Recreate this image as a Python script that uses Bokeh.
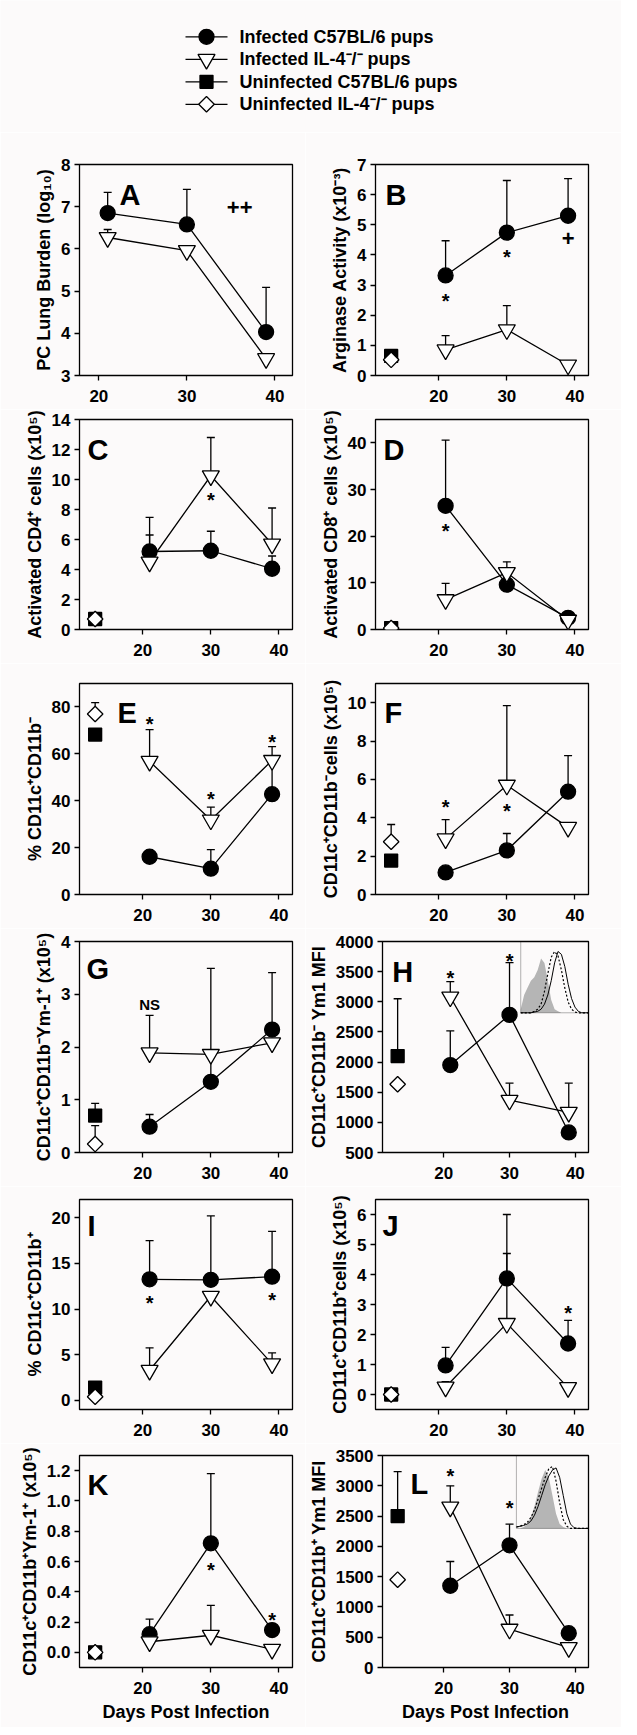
import numpy as np
from bokeh.plotting import figure
from bokeh.layouts import column, row
from bokeh.models import (Range1d, FixedTicker, Label, BoxAnnotation, NumeralTickFormatter)
from bokeh.core.properties import value
from bokeh.embed import file_html
from bokeh.resources import INLINE

# ------------------------------------------------------------------ data
DAYS = [21, 30, 39]
UNINF_DAY = [13]
XTICKS = [20, 30, 40]

SERIES_NAMES = ["Infected C57BL/6 pups", "Infected IL-4\u207b/\u207b pups",
                "Uninfected C57BL/6 pups", "Uninfected IL-4\u207b/\u207b pups"]

# A  PC lung burden
A_b6 = [6.85, 6.58, 4.03];   A_b6_err = [0.49, 0.83, 1.06]
A_il4 = [6.27, 5.96, 3.40];  A_il4_err = [0.19, 0.0, 0.0]
A_note = ["++"]; A_note_x = [36]; A_note_y = [6.98]

# B  arginase
B_b6 = [3.32, 4.74, 5.30];   B_b6_err = [1.15, 1.73, 1.23]
B_il4 = [0.85, 1.52, 0.35];  B_il4_err = [0.47, 0.80, 0.0]
B_un_b6 = [0.65]; B_un_b6_err = [0.0]
B_un_il4 = [0.52]; B_un_il4_err = [0.0]
B_note = ["*", "*", "+"]; B_note_x = [21, 30, 39]; B_note_y = [2.65, 4.1, 4.55]

# C  activated CD4
C_b6 = [5.2, 5.25, 4.05];    C_b6_err = [1.1, 1.3, 0.85]
C_il4 = [4.5, 10.25, 5.7];   C_il4_err = [2.97, 2.55, 2.4]
C_un_b6 = [0.7]; C_un_b6_err = [0.0]
C_un_il4 = [0.7]; C_un_il4_err = [0.0]
C_note = ["*"]; C_note_x = [30]; C_note_y = [9.0]

# D  activated CD8
D_b6 = [26.5, 9.6, 2.5];     D_b6_err = [14.1, 0.0, 0.0]
D_il4 = [6.4, 12.2, 2.0];    D_il4_err = [3.5, 2.3, 0.0]
D_un_b6 = [0.3]; D_un_b6_err = [0.0]
D_un_il4 = [0.3]; D_un_il4_err = [0.0]
D_note = ["*"]; D_note_x = [21]; D_note_y = [22.2]

# E  % CD11c+CD11b-
E_b6 = [16.1, 11.0, 42.8];   E_b6_err = [0.0, 8.1, 14.0]
E_il4 = [56.8, 31.8, 57.2];  E_il4_err = [13.5, 5.5, 5.9]
E_un_b6 = [68.2]; E_un_b6_err = [0.0]
E_un_il4 = [77.0]; E_un_il4_err = [4.8]
E_note = ["*", "*", "*"]; E_note_x = [21, 30, 39]; E_note_y = [75, 43, 67]

# F  CD11c+CD11b- cells
F_b6 = [1.15, 2.3, 5.36];    F_b6_err = [0.0, 0.88, 1.88]
F_il4 = [2.9, 5.7, 3.5];     F_il4_err = [1.0, 4.15, 0.0]
F_un_b6 = [1.77]; F_un_b6_err = [0.0]
F_un_il4 = [2.75]; F_un_il4_err = [0.9]
F_note = ["*", "*"]; F_note_x = [21, 30]; F_note_y = [4.8, 4.6]

# G  CD11c+CD11b-Ym-1+
G_b6 = [0.49, 1.34, 2.33];   G_b6_err = [0.23, 0.55, 1.08]
G_il4 = [1.89, 1.86, 2.08];  G_il4_err = [0.71, 1.63, 0.0]
G_un_b6 = [0.70]; G_un_b6_err = [0.23]
G_un_il4 = [0.16]; G_un_il4_err = [0.35]
G_note = ["NS"]; G_note_x = [21]; G_note_y = [2.8]

# H  CD11c+CD11b- Ym1 MFI
H_b6 = [1950, 2783, 833];    H_b6_err = [567, 867, 0]
H_il4 = [3080, 1367, 1167];  H_il4_err = [253, 283, 483]
H_un_b6 = [2100]; H_un_b6_err = [950]
H_un_il4 = [1633]; H_un_il4_err = [0]
H_note = ["*", "*"]; H_note_x = [21, 30]; H_note_y = [3480, 3767]

# I  % CD11c+CD11b+
I_b6 = [13.26, 13.2, 13.55]; I_b6_err = [4.24, 7.0, 4.95]
I_il4 = [3.3, 11.4, 4.0];    I_il4_err = [2.46, 0.0, 1.2]
I_un_b6 = [1.4]; I_un_b6_err = [0.0]
I_un_il4 = [0.4]; I_un_il4_err = [0.0]
I_note = ["*", "*"]; I_note_x = [21, 39]; I_note_y = [11.2, 11.5]

# J  CD11c+CD11b+ cells
J_b6 = [0.97, 3.87, 1.70];   J_b6_err = [0.6, 2.13, 0.77]
J_il4 = [0.25, 2.37, 0.23];  J_il4_err = [0.18, 2.33, 0.0]
J_un_b6 = [0.0]; J_un_b6_err = [0.0]
J_un_il4 = [0.0]; J_un_il4_err = [0.0]
J_note = ["*"]; J_note_x = [39]; J_note_y = [2.87]

# K  CD11c+CD11b+Ym-1+
K_b6 = [0.12, 0.72, 0.147];  K_b6_err = [0.10, 0.46, 0.0]
K_il4 = [0.07, 0.113, 0.02]; K_il4_err = [0.0, 0.197, 0.0]
K_un_b6 = [0.0]; K_un_b6_err = [0.0]
K_un_il4 = [0.0]; K_un_il4_err = [0.0]
K_note = ["*", "*"]; K_note_x = [30, 39]; K_note_y = [0.58, 0.25]

# L  CD11c+CD11b+ Ym1 MFI
L_b6 = [1350, 2017, 567];    L_b6_err = [400, 350, 0]
L_il4 = [2650, 633, 330];    L_il4_err = [350, 234, 0]
L_un_b6 = [2500]; L_un_b6_err = [733]
L_un_il4 = [1450]; L_un_il4_err = [0]
L_note = ["*", "*"]; L_note_x = [21, 30]; L_note_y = [3250, 2717]

# histogram insets (relative fluorescence, relative counts)
H_inset_u = [0, .05, .1, .15, .2, .25, .3, .35, .4, .45, .5, .55, .6, .65, .7, .75, .8, .85, .9, .95, 1]
H_inset_gray = [0.05, 0.25, 0.35, 0.45, 0.5, 0.6, 0.76, 0.7, 0.45, 0.18, 0.05, 0.02, 0, 0, 0, 0, 0, 0, 0, 0, 0]
H_inset_dot = [0, 0, 0, 0, 0.02, 0.05, 0.12, 0.3, 0.55, 0.78, 0.86, 0.8, 0.6, 0.35, 0.15, 0.05, 0.01, 0, 0, 0, 0]
H_inset_solid = [0, 0, 0, 0, 0.01, 0.02, 0.05, 0.12, 0.25, 0.45, 0.7, 0.86, 0.82, 0.65, 0.4, 0.2, 0.08, 0.02, 0, 0, 0]
L_inset_u = H_inset_u
L_inset_gray = [0, 0, 0.02, 0.05, 0.15, 0.3, 0.5, 0.68, 0.8, 0.7, 0.45, 0.2, 0.06, 0.02, 0, 0, 0, 0, 0, 0, 0]
L_inset_dash = [0.02, 0.03, 0.05, 0.08, 0.15, 0.25, 0.4, 0.55, 0.7, 0.82, 0.85, 0.65, 0.35, 0.12, 0.03, 0, 0, 0, 0, 0, 0]
L_inset_solid = [0.02, 0.03, 0.04, 0.06, 0.1, 0.18, 0.3, 0.45, 0.6, 0.72, 0.8, 0.83, 0.7, 0.45, 0.2, 0.06, 0.01, 0, 0, 0, 0]

# ------------------------------------------------------------------ style
BG = "#fcfafa"
FONT = "Liberation Sans"
LW = 1.3
X_MAIN = (10.7, 42.0)
X_A = (17.8, 42.0)

MK_B6 = dict(marker="circle", size=15, fill_color="black")
MK_IL4 = dict(marker="inverted_triangle", size=17, fill_color="white")
MK_UB6 = dict(marker="square", size=13, fill_color="black")
MK_UIL4 = dict(marker="square", size=11, fill_color="white", angle=np.pi / 4)


def base_fig(width, height, bl, br, bt, bb, xr, yr):
    p = figure(width=width, height=height, x_range=Range1d(*xr), y_range=Range1d(*yr),
               toolbar_location=None, output_backend="svg",
               min_border_left=bl, min_border_right=br,
               min_border_top=bt, min_border_bottom=bb)
    p.background_fill_color = BG
    p.border_fill_color = BG
    p.grid.visible = False
    p.outline_line_color = "black"
    p.outline_line_width = LW
    for ax in (p.xaxis[0], p.yaxis[0]):
        ax.axis_line_color = None
        ax.major_tick_out = 5
        ax.major_tick_in = 0
        ax.minor_tick_out = 0
        ax.minor_tick_in = 0
        ax.major_tick_line_color = "black"
        ax.major_tick_line_width = LW
        ax.major_label_text_font = FONT
        ax.major_label_text_font_style = "bold"
        ax.major_label_text_font_size = "17px"
        ax.major_label_text_color = "black"
        ax.axis_label_text_font = FONT
        ax.axis_label_text_font_style = "bold"
        ax.axis_label_text_font_size = "18px"
        ax.axis_label_text_color = "black"
    p.xaxis.ticker = FixedTicker(ticks=XTICKS)
    p.xaxis.major_label_standoff = 9
    p.yaxis.major_label_standoff = 4
    p.yaxis.axis_label_standoff = 4
    return p


def draw_series(p, xs, ys, errs, mk, connect=True):
    ex = [x for x, e in zip(xs, errs) if e > 0]
    ey0 = [y for y, e in zip(ys, errs) if e > 0]
    ey1 = [y + e for y, e in zip(ys, errs) if e > 0]
    if ex:
        p.segment(x0=ex, y0=ey0, x1=ex, y1=ey1, line_color="black", line_width=LW)
        p.scatter(ex, ey1, marker="dash", size=8, line_color="black", line_width=LW)
    if connect:
        p.line(xs, ys, line_color="black", line_width=LW)
    p.scatter(xs, ys, line_color="black", line_width=LW, **mk)


NOTE_SIZE = {"*": "20px", "+": "22px", "++": "22px", "NS": "15px"}
NOTE_OFFSET = {"*": 5, "+": 0, "++": 0, "NS": 0}


def add_notes(p, texts, xs, ys):
    for t, x, y in zip(texts, xs, ys):
        p.text(x=[x], y=[y], text=[t], y_offset=NOTE_OFFSET[t], text_font=value(FONT),
               text_font_style="bold", text_font_size=NOTE_SIZE[t],
               text_align="center", text_baseline="middle", text_color="black")


def add_letter(p, letter, xr, yr, fw, fh, dx, dy):
    x = xr[0] + dx / fw * (xr[1] - xr[0])
    y = yr[1] - dy / fh * (yr[1] - yr[0])
    p.add_layout(Label(x=x, y=y, text=letter, text_font=FONT, text_font_style="bold",
                       text_font_size="29px", text_align="left", text_baseline="alphabetic",
                       text_color="black"))


def add_inset(p, xr, yr, u, gray, dashed, solid):
    p.extra_x_ranges = {"ix": Range1d(*xr)}
    p.extra_y_ranges = {"iy": Range1d(*yr)}
    p.varea(x=u, y1=[0] * len(u), y2=gray, fill_color="#b5b5b5",
            x_range_name="ix", y_range_name="iy")
    p.line(u, dashed, line_color="black", line_width=1.2, line_dash="2 2",
           x_range_name="ix", y_range_name="iy")
    p.line(u, solid, line_color="black", line_width=1.0,
           x_range_name="ix", y_range_name="iy")
    p.add_layout(BoxAnnotation(left=0, right=1, bottom=0, top=1, x_range_name="ix",
                               y_range_name="iy", fill_alpha=0, line_color="black",
                               line_width=1))


LEFT_W, RIGHT_W = 305, 316
LEFT_B, RIGHT_B = (79, 13), (70, 33)
FRAME_W = 213


def panel(side, rowspec, letter, ldx, ldy, xr, yr, yticks, ytitle, b6, b6e, il4, il4e,
          ub6=None, ub6e=None, uil4=None, uil4e=None, notes=None, xtitle=None, yfmt=None):
    bt, fh, bb = rowspec
    w = LEFT_W if side == "L" else RIGHT_W
    bl, br = LEFT_B if side == "L" else RIGHT_B
    p = base_fig(w, bt + fh + bb, bl, br, bt, bb, xr, yr)
    p.yaxis.ticker = FixedTicker(ticks=yticks)
    p.yaxis.axis_label = ytitle
    if yfmt:
        p.yaxis.formatter = NumeralTickFormatter(format=yfmt)
    if xtitle:
        p.xaxis.axis_label = xtitle
        p.xaxis.axis_label_standoff = 5
    draw_series(p, DAYS, b6, b6e, MK_B6)
    draw_series(p, DAYS, il4, il4e, MK_IL4)
    if ub6 is not None:
        draw_series(p, UNINF_DAY, ub6, ub6e, MK_UB6, connect=False)
        draw_series(p, UNINF_DAY, uil4, uil4e, MK_UIL4, connect=False)
    if notes:
        add_notes(p, *notes)
    add_letter(p, letter, xr, yr, FRAME_W, fh, ldx, ldy)
    return p


R1 = (32, 211, 34)
R2 = (10, 210, 34)
R3 = (20, 211, 34)
R4 = (13, 211, 34)
R5 = (13, 210, 34)
R6 = (12, 212, 60)

pA = panel("L", R1, "A", 40, 30, X_A, (3, 8), [3, 4, 5, 6, 7, 8], "PC Lung Burden (log\u2081\u2080)",
           A_b6, A_b6_err, A_il4, A_il4_err, notes=(A_note, A_note_x, A_note_y))
pB = panel("R", R1, "B", 10, 30, X_MAIN, (0, 7), list(range(8)), "Arginase Activity (x10\u207b\u00b3)",
           B_b6, B_b6_err, B_il4, B_il4_err, B_un_b6, B_un_b6_err, B_un_il4, B_un_il4_err,
           notes=(B_note, B_note_x, B_note_y))
pC = panel("L", R2, "C", 8, 30, X_MAIN, (0, 14), list(range(0, 15, 2)),
           "Activated CD4\u207a cells (x10\u2075)",
           C_b6, C_b6_err, C_il4, C_il4_err, C_un_b6, C_un_b6_err, C_un_il4, C_un_il4_err,
           notes=(C_note, C_note_x, C_note_y))
pD = panel("R", R2, "D", 8, 30, X_MAIN, (0, 45), [0, 10, 20, 30, 40],
           "Activated CD8\u207a cells (x10\u2075)",
           D_b6, D_b6_err, D_il4, D_il4_err, D_un_b6, D_un_b6_err, D_un_il4, D_un_il4_err,
           notes=(D_note, D_note_x, D_note_y))
pE = panel("L", R3, "E", 38, 29, X_MAIN, (0, 90), [0, 20, 40, 60, 80],
           "% CD11c\u207aCD11b\u207b",
           E_b6, E_b6_err, E_il4, E_il4_err, E_un_b6, E_un_b6_err, E_un_il4, E_un_il4_err,
           notes=(E_note, E_note_x, E_note_y))
pF = panel("R", R3, "F", 9, 29, X_MAIN, (0, 11), [0, 2, 4, 6, 8, 10],
           "CD11c\u207aCD11b\u207bcells (x10\u2075)",
           F_b6, F_b6_err, F_il4, F_il4_err, F_un_b6, F_un_b6_err, F_un_il4, F_un_il4_err,
           notes=(F_note, F_note_x, F_note_y))
pG = panel("L", R4, "G", 7, 27, X_MAIN, (0, 4), [0, 1, 2, 3, 4],
           "CD11c\u207aCD11b\u207bYm-1\u207a (x10\u2075)",
           G_b6, G_b6_err, G_il4, G_il4_err, G_un_b6, G_un_b6_err, G_un_il4, G_un_il4_err,
           notes=(G_note, G_note_x, G_note_y))
pH = panel("R", R4, "H", 10, 30, X_MAIN, (500, 4000), list(range(500, 4001, 500)),
           "CD11c\u207aCD11b\u207b Ym1 MFI",
           H_b6, H_b6_err, H_il4, H_il4_err, H_un_b6, H_un_b6_err, H_un_il4, H_un_il4_err,
           notes=(H_note, H_note_x, H_note_y))
add_inset(pH, (-2.04, 1), (-1.96, 1), H_inset_u, H_inset_gray, H_inset_dot, H_inset_solid)
pI = panel("L", R5, "I", 8, 26, X_MAIN, (-1, 22), [0, 5, 10, 15, 20],
           "% CD11c\u207aCD11b\u207a",
           I_b6, I_b6_err, I_il4, I_il4_err, I_un_b6, I_un_b6_err, I_un_il4, I_un_il4_err,
           notes=(I_note, I_note_x, I_note_y))
pJ = panel("R", R5, "J", 7, 26, X_MAIN, (-0.5, 6.5), list(range(7)),
           "CD11c\u207aCD11b\u207acells (x10\u2075)",
           J_b6, J_b6_err, J_il4, J_il4_err, J_un_b6, J_un_b6_err, J_un_il4, J_un_il4_err,
           notes=(J_note, J_note_x, J_note_y))
pK = panel("L", R6, "K", 8, 29, X_MAIN, (-0.1, 1.3), [0, 0.2, 0.4, 0.6, 0.8, 1.0, 1.2],
           "CD11c\u207aCD11b\u207aYm-1\u207a (x10\u2075)",
           K_b6, K_b6_err, K_il4, K_il4_err, K_un_b6, K_un_b6_err, K_un_il4, K_un_il4_err,
           notes=(K_note, K_note_x, K_note_y), xtitle="Days Post Infection", yfmt="0.0")
pL = panel("R", R6, "L", 29, 28, X_MAIN, (0, 3500), list(range(0, 3501, 500)),
           "CD11c\u207aCD11b\u207a Ym1 MFI",
           L_b6, L_b6_err, L_il4, L_il4_err, L_un_b6, L_un_b6_err, L_un_il4, L_un_il4_err,
           notes=(L_note, L_note_x, L_note_y), xtitle="Days Post Infection")
add_inset(pL, (-1.857, 1), (-1.907, 1), L_inset_u, L_inset_gray, L_inset_dash, L_inset_solid)

# ------------------------------------------------------------------ legend (key) figure
LEG_W, LEG_H = LEFT_W + RIGHT_W, 132
LEG_LINE_X0, LEG_LINE_LEN = 185, 42      # key sample: line start and length (px)
LEG_TEXT_GAP = 12
LEG_ROW0, LEG_PITCH = 36.3, 22.5         # first row centre and row pitch (px from top)

pleg = figure(width=LEG_W, height=LEG_H, x_range=Range1d(0, LEG_W), y_range=Range1d(LEG_H, 0),
              toolbar_location=None, output_backend="svg", min_border=0)
pleg.axis.visible = False
pleg.grid.visible = False
pleg.outline_line_color = None
pleg.background_fill_color = BG
pleg.border_fill_color = BG
for i, (name, mk) in enumerate(zip(SERIES_NAMES, [MK_B6, MK_IL4, MK_UB6, MK_UIL4])):
    yy = LEG_ROW0 + i * LEG_PITCH
    pleg.line([LEG_LINE_X0, LEG_LINE_X0 + LEG_LINE_LEN], [yy, yy], line_color="black", line_width=LW)
    pleg.scatter([LEG_LINE_X0 + LEG_LINE_LEN / 2], [yy], line_color="black", line_width=LW, **mk)
    pleg.text([LEG_LINE_X0 + LEG_LINE_LEN + LEG_TEXT_GAP], [yy], text=[name], text_font=value(FONT),
              text_font_style="bold", text_font_size="18px", text_align="left",
              text_baseline="middle", text_color="black")

layout = column(pleg, row(pA, pB), row(pC, pD), row(pE, pF), row(pG, pH), row(pI, pJ),
                row(pK, pL), spacing=0)

open("out.html", "w").write(file_html(layout, INLINE))
